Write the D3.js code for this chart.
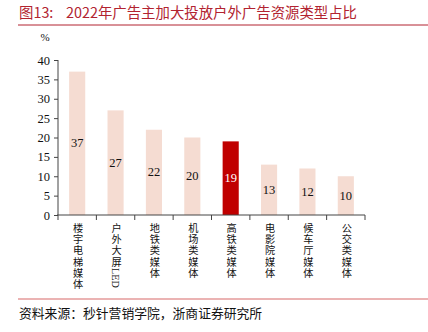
<!DOCTYPE html>
<html><head><meta charset="utf-8">
<script src="https://cdn.jsdelivr.net/npm/d3@7"></script>
<style>body{margin:0;background:#fff}svg{display:block}</style>
</head><body>
<svg id="c" width="428" height="332"></svg>
<script>
const categories = ["楼宇电梯媒体","户外大屏LED","地铁类媒体","机场类媒体","高铁类媒体","电影院媒体","候车厅媒体","公交类媒体"];
const values = [37, 27, 22, 20, 19, 13, 12, 10];
const highlight = ["高铁类媒体"];
const yTicks = [0,5,10,15,20,25,30,35,40];

const svg = d3.select("#c");
const cjk = "'Noto Sans CJK SC', sans-serif";
const serif = "'Liberation Serif', 'Times New Roman', serif";

// title
svg.append("text").attr("x", 19).attr("y", 18).attr("fill", "#B22330")
  .attr("font-family", cjk).attr("font-size", 14.4).text("图13:");
svg.append("text").attr("x", 66).attr("y", 18).attr("fill", "#B22330")
  .attr("font-family", cjk).attr("font-size", 14.4)
  .text("2022年广告主加大投放户外广告资源类型占比");
svg.append("line").attr("x1", 18).attr("x2", 428).attr("y1", 25).attr("y2", 25)
  .attr("stroke", "#B22330").attr("stroke-width", 1);

const x = d3.scaleBand().domain(categories).range([58, 365]).paddingInner(0.58).paddingOuter(0.29);
const y = d3.scaleLinear().domain([0, 40]).range([215, 60]);

// bars
svg.selectAll("rect.bar").data(categories).join("rect")
  .attr("x", d => x(d)).attr("width", x.bandwidth())
  .attr("y", (d,i) => y(values[i])).attr("height", (d,i) => y(0) - y(values[i]))
  .attr("fill", d => highlight.includes(d) ? "#C00000" : "#F5DCD2");

svg.selectAll("text.val").data(categories).join("text")
  .attr("x", d => x(d) + x.bandwidth()/2)
  .attr("y", (d,i) => (y(values[i]) + y(0))/2 + 4)
  .attr("text-anchor", "middle").attr("font-family", serif).attr("font-size", 12.5)
  .attr("fill", d => highlight.includes(d) ? "#fff" : "#111")
  .text((d,i) => values[i]);

// y axis
const ya = svg.append("g").attr("transform", "translate(58,0)")
  .call(d3.axisLeft(y).tickValues(yTicks).tickSize(4).tickPadding(4));
ya.selectAll("text").attr("font-family", serif).attr("font-size", 12.5).attr("fill", "#111");
ya.selectAll("path,line").attr("stroke", "#444");
ya.select(".domain").attr("d", "M0,60V215");

svg.append("text").attr("x", 45).attr("y", 41).attr("text-anchor", "middle")
  .attr("font-family", serif).attr("font-size", 11).attr("fill", "#111").text("%");

// x axis with boundary ticks
const xa = svg.append("g").attr("transform", "translate(0,215)");
xa.append("line").attr("x1", 57).attr("x2", 365).attr("stroke", "#444");
const step = x.step();
const bounds = d3.range(categories.length + 1).map(i => 58 + i * step);
xa.selectAll("line.t").data(bounds).join("line")
  .attr("x1", d => d).attr("x2", d => d).attr("y1", 0).attr("y2", 5).attr("stroke", "#444");

// vertical category labels (one text each, vertical writing mode)
const cats = svg.selectAll("text.cat").data(categories).join("text")
  .attr("x", d => x(d) + x.bandwidth()/2)
  .attr("y", 223)
  .attr("font-family", "'Liberation Serif', 'Noto Sans CJK SC', serif")
  .attr("font-size", 10.2).attr("fill", "#111")
  .style("writing-mode", "vertical-rl");
cats.each(function(d) {
  const m = d.match(/^(.*?)([A-Za-z]*)$/);
  const t = d3.select(this);
  t.append("tspan").style("letter-spacing", "1px").text(m[1]);
  if (m[2]) t.append("tspan").style("letter-spacing", "0px").text(m[2]);
});

// footer
svg.append("line").attr("x1", 18).attr("x2", 428).attr("y1", 299).attr("y2", 299)
  .attr("stroke", "#E59A9A").attr("stroke-width", 1.5);
svg.append("text").attr("x", 19).attr("y", 318).attr("fill", "#111")
  .attr("font-family", cjk).attr("font-size", 12.8)
  .text("资料来源：秒针营销学院，浙商证券研究所");
</script>
</body></html>
